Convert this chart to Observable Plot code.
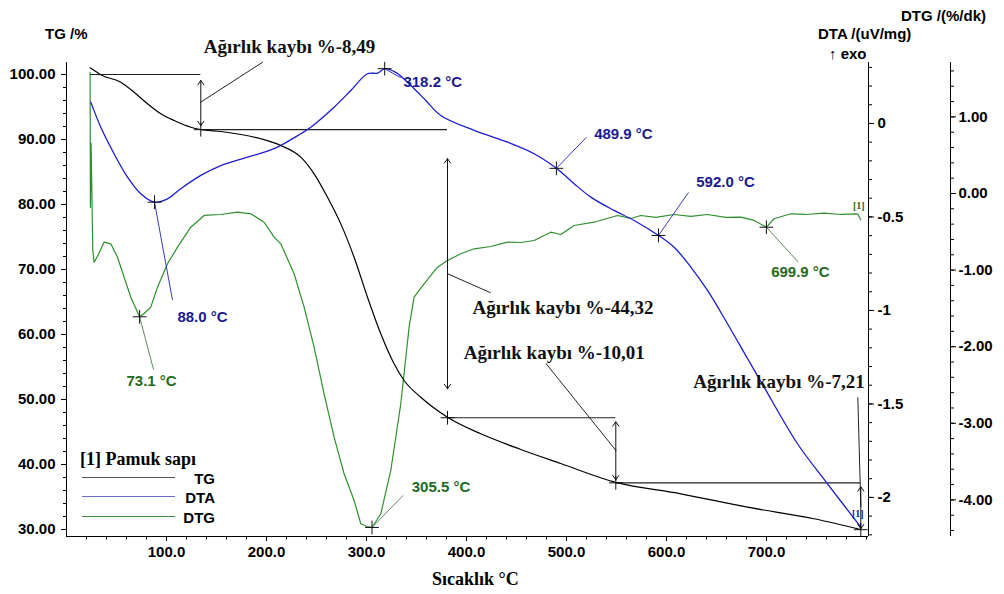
<!DOCTYPE html>
<html><head><meta charset="utf-8">
<script src="https://cdn.jsdelivr.net/npm/d3@7"></script>
<script src="https://cdn.jsdelivr.net/npm/@observablehq/plot@0.6"></script>
<style>
body{margin:0;background:#fff;}
#wrap{position:relative;width:1004px;height:594px;overflow:hidden;background:#fff;}
.t{position:absolute;white-space:nowrap;font-family:"Liberation Sans",Arial,sans-serif;font-weight:bold;color:#000;transform:translateY(-50%);line-height:1;}
.s{font-family:"Liberation Serif","Times New Roman",serif;}
.ln{position:absolute;height:0;}
</style></head><body><div id="wrap"></div>
<script>
// ---------- DATA ----------
// TG (%) vs temperature (°C)
const tgT = [23.6, 29.3, 34.3, 54.3, 67.6, 81.0, 94.3, 107.6, 124.3, 134.3, 154.3, 174.3, 194.3, 214.3, 234.3, 247.6, 261.0, 274.3, 287.6, 301.0, 314.3, 327.6, 337.6, 354.3, 381.0, 414.3, 454.3, 494.3, 549.3, 614.3, 681.0, 747.6, 794.3];
const tgV = [101.03, 100.46, 99.95, 98.82, 97.28, 95.49, 93.95, 92.92, 91.89, 91.54, 91.23, 90.77, 90.11, 89.08, 87.28, 84.72, 81.12, 77.02, 71.89, 65.74, 60.11, 55.49, 52.92, 50.35, 47.28, 44.72, 42.31, 40.15, 37.25, 35.49, 33.43, 31.65, 30.0];
// DTA (uV/mg)
const dtaT = [24.3, 34.3, 47.6, 61.0, 74.3, 88.0, 101.0, 114.3, 134.3, 154.3, 181.0, 207.6, 234.3, 244.3, 267.6, 284.3, 301.0, 311.0, 318.2, 329.3, 344.3, 359.3, 374.3, 407.6, 441.0, 467.6, 489.9, 507.6, 524.3, 547.6, 567.6, 592.0, 607.6, 624.3, 641.0, 661.0, 681.0, 697.6, 731.0, 761.0, 794.3];
const dtaV = [0.114, -0.020, -0.162, -0.287, -0.376, -0.421, -0.403, -0.349, -0.278, -0.225, -0.180, -0.135, -0.055, -0.020, 0.087, 0.176, 0.266, 0.269, 0.293, 0.273, 0.203, 0.123, 0.043, -0.037, -0.100, -0.162, -0.240, -0.322, -0.394, -0.465, -0.519, -0.599, -0.662, -0.768, -0.893, -1.071, -1.257, -1.410, -1.713, -1.927, -2.159];
// DTG (%/dk)
const dtgT = [23.6, 23.9, 24.6, 26.3, 27.6, 31.3, 37.6, 44.3, 51.0, 57.6, 64.3, 73.1, 77.6, 84.3, 91.0, 101.0, 111.0, 124.3, 137.6, 154.3, 171.0, 184.3, 197.6, 207.6, 214.3, 227.6, 237.6, 247.6, 257.6, 267.6, 277.6, 287.6, 294.3, 300.3, 305.5, 314.3, 324.3, 334.3, 342.6, 347.6, 357.6, 371.0, 381.0, 394.3, 407.6, 424.3, 441.0, 454.3, 467.6, 484.3, 494.3, 507.6, 527.6, 551.0, 564.3, 574.3, 589.3, 607.6, 624.3, 641.0, 659.3, 674.3, 687.6, 699.9, 707.6, 724.3, 739.3, 757.6, 774.3, 791.0, 794.3];
const dtgV = [1.580, -0.183, 0.653, -0.744, -0.897, -0.809, -0.636, -0.657, -0.832, -1.093, -1.354, -1.610, -1.567, -1.484, -1.223, -0.918, -0.701, -0.440, -0.287, -0.274, -0.244, -0.265, -0.375, -0.570, -0.657, -1.048, -1.484, -2.007, -2.615, -3.181, -3.659, -4.008, -4.312, -4.347, -4.360, -4.181, -3.616, -2.745, -1.745, -1.354, -1.179, -0.962, -0.875, -0.787, -0.722, -0.692, -0.636, -0.640, -0.614, -0.505, -0.535, -0.418, -0.375, -0.287, -0.326, -0.287, -0.313, -0.274, -0.300, -0.274, -0.313, -0.309, -0.352, -0.440, -0.330, -0.265, -0.274, -0.257, -0.274, -0.265, -0.343];
// Peak markers
const dtaMarkT = [88.0, 318.2, 489.9, 592.0];
const dtaMarkV = [-0.421, 0.293, -0.240, -0.599];
const dtgMarkT = [73.1, 305.5, 699.9];
const dtgMarkV = [-1.61, -4.36, -0.44];
// Mass-loss steps
const stepT = [23.6, 134.3, 381.0, 549.3, 794.3];
const stepTG = [100, 91.51, 47.19, 37.18, 29.97];
const lossLabels = ["8,49", "44,32", "10,01", "7,21"];
// Tick labels
const xTicks = [100, 200, 300, 400, 500, 600, 700];
const tgTicks = [30, 40, 50, 60, 70, 80, 90, 100];
const dtaTicks = [0, -0.5, -1, -1.5, -2];
const dtgTicks = [1, 0, -1, -2, -3, -4];

// ---------- LAYOUT / STYLE ----------
const W = 1004, H = 594, mL = 66, mR = 136, mT = 62, mB = 58;
const xDomain = [0, 802];
const tgDomain = [28.923, 101.846];
const dtaDomain = [-2.209, 0.326];
const dtgDomain = [-4.478, 1.710];
const dta2tg = d3.scaleLinear(dtaDomain, tgDomain);
const dtg2tg = d3.scaleLinear(dtgDomain, tgDomain);
const pxY = (tgDomain[1] - tgDomain[0]) / (H - mT - mB);
const pxX = (xDomain[1] - xDomain[0]) / (W - mL - mR);
const dtgAxisDx = 82;

const cTG = "#000", cDTA = "#1c1cd2", cDTG = "#2f8f2f", cDTAtxt = "#1a1a8e", cDTGtxt = "#1f6a1f";
const sans = "Liberation Sans, Arial, sans-serif", serif = "Liberation Serif, Times New Roman, serif";

const tgData = tgT.map((t, i) => ({t, v: tgV[i]}));
const dtaData = dtaT.map((t, i) => ({t, v: dta2tg(dtaV[i])}));
const dtgData = dtgT.map((t, i) => ({t, v: dtg2tg(dtgV[i])}));

// offsets in pixels (leader end, label centre) from each marker
const dtaLeader = [[18, 98], [16, 9], [30, -31], [30, -43]];
const dtaLabel = [[48, 115], [48, 14], [67, -34], [67, -53]];
const dtgLeader = [[14, 53], [31, -32], [32, 35]];
const dtgLabel = [[12, 64], [69, -40], [34, 45]];
const lossLeader = [[62, -40], [43, 19], [-70, -87], [-3, -109]];
const lossLabel = [[3, -55], [25, 34], [-152, -97], [4, -124]];
const lossAnchor = ["start", "start", "start", "end"];
const arrowInset = [[6, 4], [29, 29], [4, 3], [4, 1]];

const off = (t, v, d) => ({x: t + d[0] * pxX, y: v - d[1] * pxY});

const dtaMarks = dtaMarkT.map((t, i) => ({t, v: dta2tg(dtaMarkV[i]), label: t.toFixed(1) + " °C", le: dtaLeader[i], lb: dtaLabel[i]}));
const dtgMarks = dtgMarkT.map((t, i) => ({t, v: dtg2tg(dtgMarkV[i]), label: t.toFixed(1) + " °C", le: dtgLeader[i], lb: dtgLabel[i]}));
const steps = lossLabels.map((s, i) => ({
  t: stepT[i + 1], top: stepTG[i], bot: stepTG[i + 1], mid: (stepTG[i] + stepTG[i + 1]) / 2,
  label: "Ağırlık kaybı %-" + s, le: lossLeader[i], lb: lossLabel[i], anchor: lossAnchor[i], ins: arrowInset[i]
}));
const hlines = stepTG.slice(0, 4).map((v, i) => ({v, t1: stepT[i], t2: stepT[i + 1]}));
const tgMarks = stepT.slice(1).map((t, i) => ({t, v: stepTG[i + 1]}));

const fmtDTA = v => { const r = Math.round(v * 10) / 10; return r === 0 ? "0" : String(r); };
const fmtDTG = v => { const r = Math.round(v * 100) / 100; return (r === 0 ? 0 : r).toFixed(2); };

const axFont = {fontFamily: sans, fontSize: 15, fontWeight: "bold", fill: "#000"};
const noText = () => "";

const marks = [
  // axis lines
  Plot.ruleX([xDomain[0]], {stroke: "#000"}),
  Plot.ruleX([xDomain[1]], {stroke: "#000"}),
  Plot.ruleX([xDomain[1]], {stroke: "#000", dx: dtgAxisDx}),
  Plot.ruleY([tgDomain[0]], {stroke: "#000"}),
  // x axis
  Plot.axisX(d3.range(20, 801, 20), {anchor: "bottom", tickSize: 3.5, tickFormat: noText, label: null}),
  Plot.axisX(xTicks, {anchor: "bottom", tickSize: 5, tickPadding: 5, tickFormat: d => d.toFixed(1), label: null, ...axFont}),
  // TG axis
  Plot.axisY(d3.range(30, 101, 2), {anchor: "left", tickSize: 3, tickFormat: noText, label: null}),
  Plot.axisY(tgTicks, {anchor: "left", tickSize: 5, tickPadding: 6, tickFormat: d => d.toFixed(2), label: null, ...axFont}),
  // DTA axis
  Plot.axisY(d3.range(-22, 4).map(d => dta2tg(d / 10)), {anchor: "right", tickSize: 3, tickFormat: noText, label: null}),
  Plot.axisY(dtaTicks.map(dta2tg), {anchor: "right", tickSize: 5, tickPadding: 4, tickFormat: d => fmtDTA(dta2tg.invert(d)), label: null, ...axFont}),
  // DTG axis
  Plot.axisY(d3.range(-22, 9).map(d => dtg2tg(d / 5)), {anchor: "right", tickSize: 3, dx: dtgAxisDx, tickFormat: noText, label: null}),
  Plot.axisY(dtgTicks.map(dtg2tg), {anchor: "right", tickSize: 5, tickPadding: 3, dx: dtgAxisDx, tickFormat: d => fmtDTG(dtg2tg.invert(d)), label: null, ...axFont}),
  // step reference lines
  Plot.ruleY(hlines, {y: "v", x1: "t1", x2: "t2", stroke: "#222", strokeWidth: 1.2}),
  // curves
  Plot.line(dtgData, {x: "t", y: "v", stroke: cDTG, strokeWidth: 1.2}),
  Plot.line(dtaData, {x: "t", y: "v", stroke: cDTA, strokeWidth: 1.3, curve: "catmull-rom"}),
  Plot.line(tgData, {x: "t", y: "v", stroke: cTG, strokeWidth: 1.2, curve: "monotone-x"}),
  // leaders
  Plot.link(dtaMarks, {x1: "t", y1: "v", x2: d => off(d.t, d.v, d.le).x, y2: d => off(d.t, d.v, d.le).y, stroke: "#3a3ab0", strokeWidth: 1}),
  Plot.link(dtgMarks, {x1: "t", y1: "v", x2: d => off(d.t, d.v, d.le).x, y2: d => off(d.t, d.v, d.le).y, stroke: "#5f8a5f", strokeWidth: 1}),
  Plot.link(steps, {x1: "t", y1: "mid", x2: d => off(d.t, d.mid, d.le).x, y2: d => off(d.t, d.mid, d.le).y, stroke: "#222", strokeWidth: 1}),
  // markers
  Plot.dot([...tgMarks, ...dtaMarks, ...dtgMarks], {x: "t", y: "v", symbol: "plus", r: 4.5, stroke: "#111", strokeWidth: 1}),
  // labels
  Plot.text(dtaMarks, {x: d => off(d.t, d.v, d.lb).x, y: d => off(d.t, d.v, d.lb).y, text: "label", fill: cDTAtxt, fontFamily: sans, fontSize: 15, fontWeight: "bold"}),
  Plot.text(dtgMarks, {x: d => off(d.t, d.v, d.lb).x, y: d => off(d.t, d.v, d.lb).y, text: "label", fill: cDTGtxt, fontFamily: sans, fontSize: 15, fontWeight: "bold"}),
  Plot.text(steps.filter(d => d.anchor === "start"), {x: d => off(d.t, d.mid, d.lb).x, y: d => off(d.t, d.mid, d.lb).y, text: "label", textAnchor: "start", fill: "#111", fontFamily: serif, fontSize: 19, fontWeight: "bold"}),
  Plot.text(steps.filter(d => d.anchor === "end"), {x: d => off(d.t, d.mid, d.lb).x, y: d => off(d.t, d.mid, d.lb).y, text: "label", textAnchor: "end", fill: "#111", fontFamily: serif, fontSize: 19, fontWeight: "bold"}),
  // curve-end tags
  Plot.text([dtgData[dtgData.length - 1]], {x: "t", y: "v", text: () => "[1]", dx: -2, dy: -14, fill: cDTGtxt, fontFamily: serif, fontSize: 10, fontWeight: "bold"}),
  Plot.text([tgData[tgData.length - 1]], {x: "t", y: "v", text: () => "[1]", dx: -3, dy: -16, fill: cDTAtxt, fontFamily: serif, fontSize: 10, fontWeight: "bold"})
];

// double-headed arrows
steps.forEach(s => {
  marks.push(Plot.arrow([s], {x1: "t", y1: "mid", x2: "t", y2: "top", insetEnd: s.ins[0], headLength: 8, headAngle: 70, stroke: "#111", strokeWidth: 1}));
  marks.push(Plot.arrow([s], {x1: "t", y1: "mid", x2: "t", y2: "bot", insetEnd: s.ins[1], headLength: 8, headAngle: 70, stroke: "#111", strokeWidth: 1}));
});

const chart = Plot.plot({
  width: W, height: H,
  marginLeft: mL, marginRight: mR, marginTop: mT, marginBottom: mB,
  x: {domain: xDomain, label: null},
  y: {domain: tgDomain, label: null},
  style: {background: "white", overflow: "visible", fontFamily: sans},
  marks
});
const wrap = document.getElementById("wrap");
wrap.appendChild(chart);

// ---------- titles and legend (HTML overlay) ----------
function addText(txt, left, top, size, cls = "", extra = {}) {
  const d = document.createElement("div");
  d.className = "t " + cls;
  d.textContent = txt;
  d.style.left = left + "px"; d.style.top = top + "px"; d.style.fontSize = size + "px";
  Object.assign(d.style, extra);
  wrap.appendChild(d);
  return d;
}
addText("TG /%", 45, 33, 15);
addText("DTA /(uV/mg)", 818, 33, 15);
addText("↑ exo", 829, 53, 15);
addText("DTG /(%/dk)", 901, 15, 15);
addText("Sıcaklık °C", 432, 579, 18, "s");
addText("[1] Pamuk sapı", 80, 459, 18, "s");
const legendItems = [["TG", "#555"], ["DTA", "#6a6acc"], ["DTG", "#3a8a3a"]];
const legendY = [477, 496, 516];
legendItems.forEach(([name, col], i) => {
  const l = document.createElement("div");
  l.className = "ln";
  l.style.left = "82px"; l.style.width = "93px"; l.style.top = legendY[i] + "px";
  l.style.borderTop = "1.5px solid " + col;
  wrap.appendChild(l);
  addText(name, 0, legendY[i] + 1, 15, "", {width: "215px", textAlign: "right"});
});
</script>
</body></html>
